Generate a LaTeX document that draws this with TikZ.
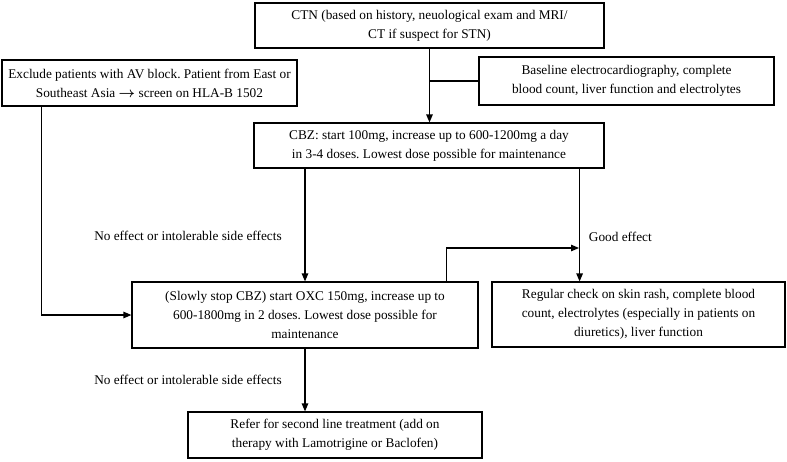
\documentclass[tikz,border=0pt]{standalone}
\usepackage{fontspec}
\setmainfont{Liberation Serif}
\usetikzlibrary{arrows.meta}

\begin{document}
\frenchspacing
\begin{tikzpicture}[x=1pt, y=-1pt, line width=1.2pt,
    box/.style={draw, align=center, inner sep=0pt, font=\fontsize{13.3}{19}\selectfont},
    lbl/.style={font=\fontsize{13.3}{19}\selectfont},
    arr/.style={-{Triangle[length=8pt,width=6.5pt]}}]
    \useasboundingbox (0, 0) rectangle (787, 461);

    \node[box, minimum width=349pt, minimum height=45pt] (ctn) at (429.5, 25.5)
        {CTN (based on history, neuological exam and MRI/\\CT if suspect for STN)};
    \node[box, minimum width=295pt, minimum height=46pt] (excl) at (149.5, 83)
        {Exclude patients with AV block. Patient from East or\\Southeast Asia {\boldmath$\rightarrow$} screen on HLA-B 1502};
    \node[box, minimum width=295pt, minimum height=48pt] (base) at (626.5, 81)
        {Baseline electrocardiography, complete\\blood count, liver function and electrolytes};
    \node[box, minimum width=350pt, minimum height=45pt] (cbz) at (429, 145.5)
        {CBZ: start 100mg, increase up to 600-1200mg a day\\in 3-4 doses. Lowest dose possible for maintenance};
    \node[box, minimum width=346pt, minimum height=66pt] (oxc) at (305, 315)
        {(Slowly stop CBZ) start OXC 150mg, increase up to\\600-1800mg in 2 doses. Lowest dose possible for\\maintenance};
    \node[box, minimum width=293pt, minimum height=65pt] (reg) at (638.5, 314.5)
        {Regular check on skin rash, complete blood\\count, electrolytes (especially in patients on\\diuretics), liver function};
    \node[box, minimum width=294pt, minimum height=46pt] (refer) at (335, 435)
        {Refer for second line treatment (add on\\therapy with Lamotrigine or Baclofen)};

    \node[lbl] (noeff) at (188, 236) {No effect or intolerable side effects};
    \node[lbl, right] (good) at (585, 237) {Good effect};
    \node[lbl] (noeff2) at (188, 380) {No effect or intolerable side effects};

    \draw[arr] (ctn.south) -- (ctn.south |- cbz.north);
    \draw (ctn.south |- base.west) -- (base.west);
    \draw[arr] (cbz.south -| oxc.north) -- (oxc.north);
    \draw[arr] ([xshift=-25pt]cbz.south east) -- ([xshift=-25pt]cbz.south east |- reg.north);
    \coordinate (ge) at (579, 248);
    \draw[arr] ([xshift=-32pt]oxc.north east) |- (ge);
    \draw[arr] ([xshift=40pt]excl.south west) |- (oxc.west);
    \draw[arr] (oxc.south) -- (oxc.south |- refer.north);
\end{tikzpicture}
\end{document}
